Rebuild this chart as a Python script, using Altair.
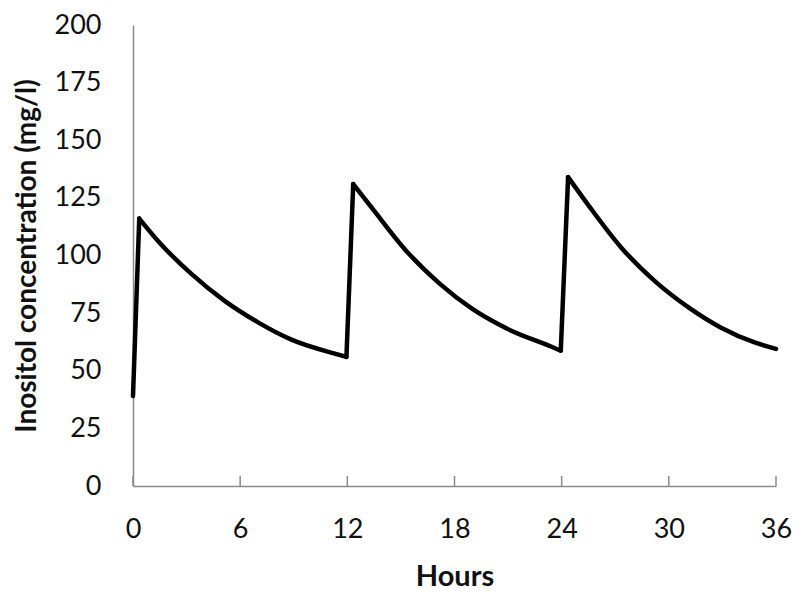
import altair as alt
import pandas as pd

# Readings from the reference (hours, mg/l), grouped by segment (rise / decay)
segments = ["r0", "r0",
            "d0", "d0", "d0", "d0", "d0", "d0", "d0", "d0",
            "r1", "r1",
            "d1", "d1", "d1", "d1", "d1", "d1", "d1", "d1",
            "r2", "r2",
            "d2", "d2", "d2", "d2", "d2", "d2", "d2", "d2"]
hours = [0, 0.35,
         0.35, 1.4, 3.27, 5.13, 7.0, 8.87, 11.5, 11.95,
         11.95, 12.33,
         12.33, 13.44, 15.3, 17.2, 19.0, 20.9, 23.5, 23.95,
         23.95, 24.36,
         24.36, 25.48, 27.34, 29.2, 31.1, 32.9, 34.8, 36]
conc = [39, 116,
        116, 106.3, 92, 80.3, 71, 63.5, 57, 56,
        56, 131,
        131, 120, 102, 87.6, 76.8, 68.4, 60.2, 58.7,
        58.7, 134,
        134, 122, 103.4, 89, 77.5, 68.8, 62.3, 59.5]

x_ticks = [0, 6, 12, 18, 24, 30, 36]
y_ticks = [0, 25, 50, 75, 100, 125, 150, 175, 200]

df = pd.DataFrame({"seg": segments, "hours": hours, "conc": conc})
tick_df = pd.DataFrame({"t": x_ticks})

FONT = "Lato"
AXIS_GREY = "#8a8a8a"
PLOT_H = 461

x_scale = alt.Scale(domain=[0, 36], nice=False, zero=False)
y_scale = alt.Scale(domain=[0, 200], nice=False)

line = alt.Chart(df).mark_line(
    color="black", strokeWidth=4.5, interpolate="monotone",
    strokeCap="round", strokeJoin="round"
).encode(
    x=alt.X("hours:Q", scale=x_scale,
            axis=alt.Axis(values=x_ticks, title="Hours", ticks=False,
                          labelPadding=30, titlePadding=20,
                          domainColor=AXIS_GREY, domainWidth=1.5)),
    y=alt.Y("conc:Q", scale=y_scale,
            axis=alt.Axis(values=y_ticks, title="Inositol concentration (mg/l)",
                          ticks=False, labelPadding=32, titlePadding=13,
                          titleFontSize=28,
                          domainColor=AXIS_GREY, domainWidth=1.5)),
    detail="seg:N",
)

ticks = alt.Chart(tick_df).mark_rule(color=AXIS_GREY, strokeWidth=1.5).encode(
    x=alt.X("t:Q", scale=x_scale),
    y=alt.value(PLOT_H),
    y2=alt.value(PLOT_H - 10),
)

chart = alt.layer(ticks, line).properties(
    width=643, height=PLOT_H,
    autosize=alt.AutoSizeParams(type="none"),
    padding={"left": 125, "top": 17, "right": 16, "bottom": 106},
).configure_view(stroke=None).configure_axis(
    grid=False,
    labelFont=FONT, labelFontSize=27, labelColor="#111111",
    titleFont=FONT, titleFontSize=29, titleFontWeight="bold", titleColor="#111111",
    labelFlush=False, labelOverlap=False,
)

chart.save("out.html", embed_options={"renderer": "svg", "actions": False})
